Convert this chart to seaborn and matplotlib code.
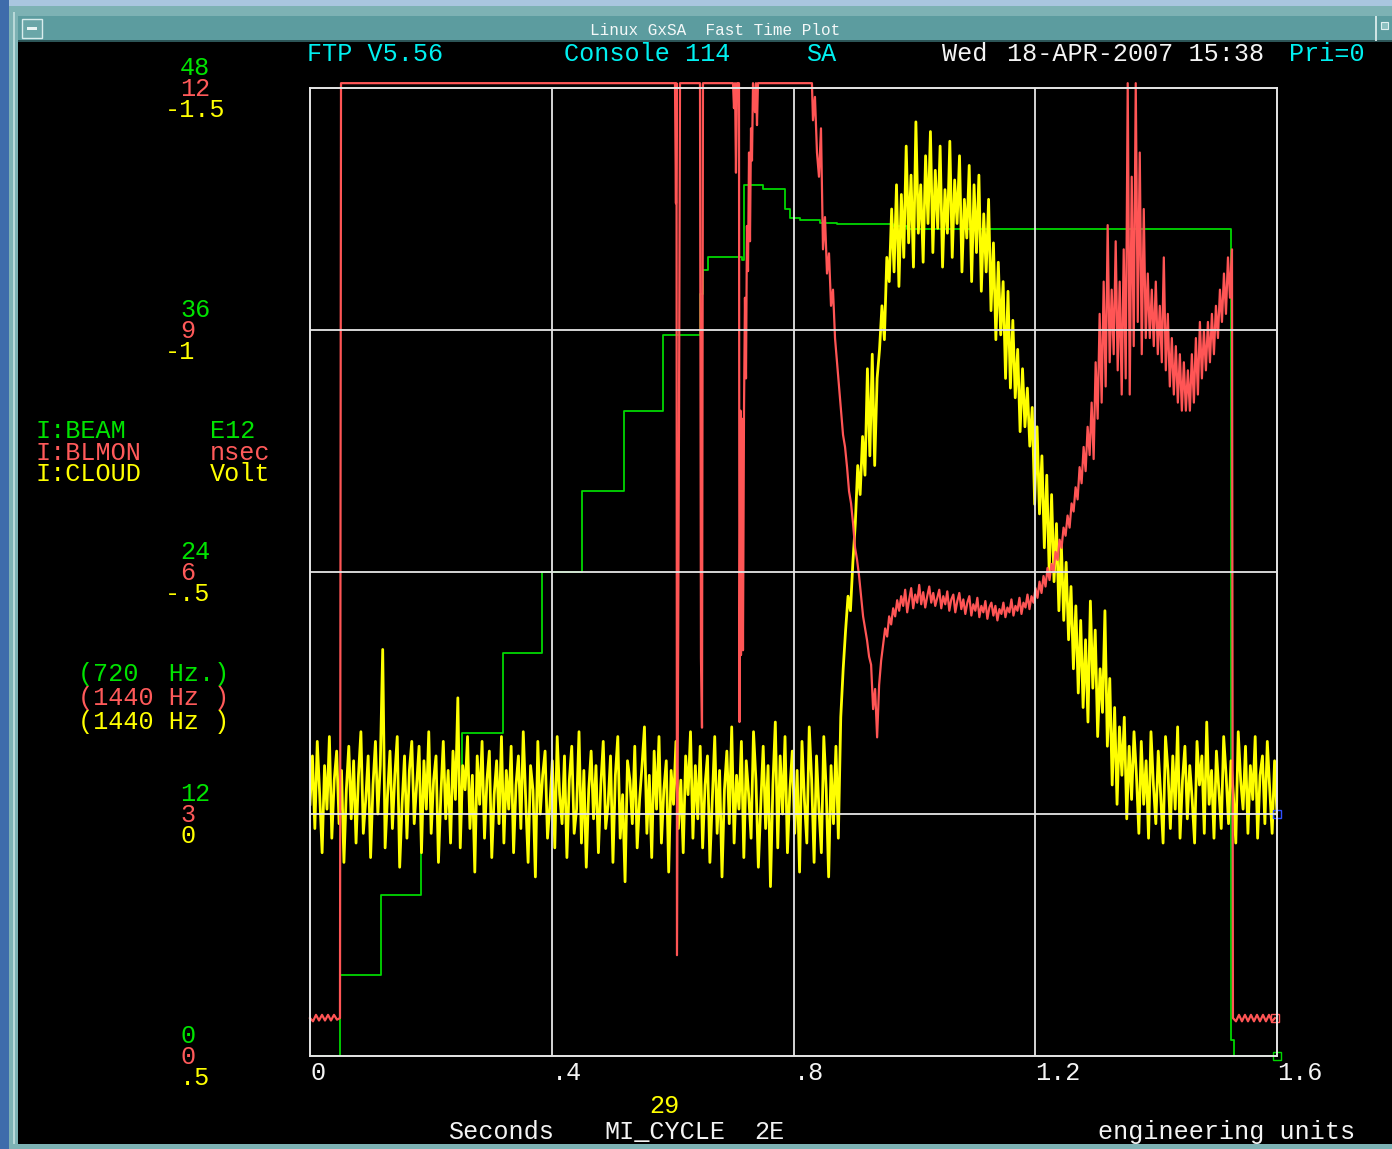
import numpy as np
import matplotlib
matplotlib.use("Agg")
import matplotlib.pyplot as plt
import matplotlib.transforms as mtransforms
from matplotlib.patches import Rectangle
import seaborn as sns

# ---------------- data ----------------
# I:BEAM (E12) step trace: time (s) of each step start and level
beam_t = [0.0, 0.0496, 0.1175, 0.1837, 0.2515, 0.3193, 0.3838, 0.4500, 0.5195, 0.5841,
          0.6453, 0.6502, 0.6585, 0.7148, 0.7181, 0.7495, 0.7859, 0.7942, 0.8107, 0.8438,
          0.8719, 0.9646, 0.9878, 1.5238, 1.5288, 1.6]
beam_v = [0.0, 4.0, 8.0, 12.0, 16.0, 20.0, 24.0, 28.0, 32.0, 35.75,
          37.8, 39.0, 39.6, 39.45, 43.2, 43.0, 42.0, 41.55, 41.45, 41.3,
          41.25, 41.15, 41.0, 0.8, 0.0, 0.0]

# I:BLMON (nsec) - spiky early part (explicit samples)
blmon_t_a = [0.0, 0.0050, 0.0099, 0.0149, 0.0199, 0.0248, 0.0298, 0.0347, 0.0397, 0.0447,
             0.0496, 0.0513, 0.6039, 0.6055, 0.6064, 0.6072, 0.6089, 0.6105, 0.6122, 0.6453,
             0.6469, 0.6486, 0.6502, 0.6999, 0.7015, 0.7032, 0.7048, 0.7065, 0.7098, 0.7106,
             0.7123, 0.7131, 0.7148, 0.7164, 0.7181, 0.7197, 0.7214, 0.7230, 0.7247, 0.7264,
             0.7280, 0.7297, 0.7313, 0.7330, 0.7363, 0.7379, 0.7396, 0.7412, 0.8305]
blmon_v_a = [0.47, 0.43, 0.51, 0.44, 0.51, 0.44, 0.51, 0.44, 0.51, 0.45,
             0.47, 12.06, 12.06, 10.57, 12.06, 1.25, 4.59, 7.78, 12.06, 12.06,
             4.93, 4.07, 12.06, 12.06, 11.75, 12.06, 10.95, 12.06, 12.06, 4.14,
             8.0, 4.97, 7.9, 5.03, 8.0, 9.4, 8.4, 10.29, 9.73, 11.2,
             10.1, 11.5, 11.1, 12.06, 11.7, 12.06, 11.54, 12.06, 12.06]
# I:BLMON main part sampled evenly from 0.8322 s to 1.5255 s
blmon_b_start, blmon_b_end = 0.8322, 1.5255
blmon_v_b = [
    11.6, 11.89, 11.2, 10.9, 11.5, 10.0, 10.4, 9.7, 9.95, 9.3,
    9.5, 8.9, 8.6, 8.3, 8.0, 7.7, 7.55, 7.3, 7.0, 6.85,
    6.6, 6.3, 6.15, 5.95, 5.7, 5.45, 5.3, 5.15, 4.95, 4.85,
    4.3, 4.55, 3.95, 4.6, 4.9, 5.1, 5.3, 5.2, 5.45, 5.35,
    5.55, 5.45, 5.65, 5.52, 5.70, 5.58, 5.78, 5.50, 5.66, 5.80,
    5.55, 5.72, 5.62, 5.84, 5.60, 5.75, 5.56, 5.70, 5.82, 5.62,
    5.74, 5.58, 5.68, 5.78, 5.55, 5.70, 5.60, 5.76, 5.52, 5.66,
    5.72, 5.50, 5.64, 5.74, 5.54, 5.66, 5.48, 5.62, 5.70, 5.46,
    5.60, 5.52, 5.68, 5.44, 5.58, 5.50, 5.64, 5.42, 5.56, 5.62,
    5.46, 5.58, 5.40, 5.54, 5.48, 5.62, 5.44, 5.56, 5.50, 5.66,
    5.46, 5.58, 5.52, 5.68, 5.48, 5.62, 5.56, 5.72, 5.54, 5.70,
    5.62, 5.80, 5.68, 5.88, 5.74, 5.95, 5.82, 6.05, 5.90, 6.10,
    6.00, 6.25, 6.15, 6.40, 6.30, 6.55, 6.45, 6.70, 6.55, 6.85,
    6.75, 7.05, 6.90, 7.30, 7.10, 7.55, 7.25, 7.80, 7.45, 8.10,
    7.4, 8.6, 7.9, 9.2, 8.1, 9.6, 8.3, 10.3, 8.6, 9.5,
    8.7, 10.1, 8.5, 9.6, 8.2, 10.0, 8.4, 12.06, 8.2, 10.9,
    8.8, 12.06, 9.1, 11.2, 8.7, 10.5, 8.9, 9.7, 8.9, 9.5,
    8.8, 9.6, 8.7, 9.3, 8.6, 9.9, 8.5, 9.2, 8.3, 8.9,
    8.2, 8.8, 8.1, 8.7, 8.0, 8.6, 8.0, 8.5, 8.0, 8.7,
    8.1, 8.9, 8.2, 9.1, 8.4, 9.0, 8.5, 9.1, 8.6, 9.2,
    8.7, 9.3, 8.9, 9.5, 9.1, 9.7, 9.2, 9.9, 9.4, 10.0]
# I:BLMON tail after beam is gone
blmon_t_c = [1.5271, 1.5321, 1.5371, 1.5420, 1.5470, 1.5520, 1.5569, 1.5619, 1.5669, 1.5718,
             1.5768, 1.5817, 1.5867, 1.5917, 1.5966]
blmon_v_c = [0.47, 0.43, 0.51, 0.43, 0.51, 0.43, 0.51, 0.43, 0.51, 0.43,
             0.51, 0.43, 0.51, 0.43, 0.47]

# I:CLOUD (Volt), evenly sampled over 0 .. 1.6 s
cloud_v = [
    -0.02, -0.12, 0.03, -0.15, -0.04, 0.08, -0.10, -0.01, -0.16, 0.05, -0.07, -0.13, 0.02, -0.09, 0.10, -0.05, -0.14, 0.01, -0.11, 0.06,
    -0.08, -0.17, 0.04, -0.03, -0.12, 0.09, -0.06, -0.15, 0.00, -0.10, -0.34, 0.07, -0.04, -0.13, 0.03, -0.08, -0.16, 0.11, -0.02, -0.12,
    0.05, -0.09, -0.15, 0.02, -0.06, -0.14, 0.08, -0.11, -0.01, -0.17, 0.04, -0.07, -0.12, 0.10, -0.04, -0.15, 0.01, -0.09, 0.06, -0.13,
    -0.03, -0.24, 0.07, -0.10, -0.05, -0.16, 0.03, -0.08, 0.12, -0.12, -0.02, -0.15, 0.05, -0.07, -0.13, 0.09, -0.04, -0.11, 0.02, -0.16,
    0.06, -0.09, -0.01, -0.14, 0.08, -0.06, -0.12, 0.03, -0.17, -0.03, 0.10, -0.10, -0.05, 0.13, -0.15, 0.00, -0.08, -0.13, 0.05, -0.02,
    -0.11, 0.07, -0.16, -0.04, 0.02, -0.12, 0.09, -0.07, -0.14, 0.04, -0.01, -0.17, 0.06, -0.09, 0.11, -0.05, -0.13, 0.01, -0.10, 0.08,
    -0.06, -0.15, 0.03, -0.02, -0.12, 0.10, -0.08, -0.16, 0.05, -0.04, 0.14, -0.11, -0.07, 0.02, -0.14, 0.07, -0.03, -0.10, -0.18, 0.04,
    -0.08, 0.09, -0.13, -0.01, -0.16, 0.06, -0.05, -0.11, 0.12, -0.09, -0.02, -0.15, 0.03, -0.07, 0.08, -0.12, -0.04, -0.17, 0.05, -0.10,
    0.01, -0.14, 0.07, -0.06, -0.12, 0.10, -0.03, -0.16, 0.04, -0.09, 0.13, -0.05, -0.13, 0.02, -0.18, 0.06, -0.08, -0.01, -0.15, 0.09,
    -0.11, -0.04, 0.05, -0.17, -0.07, 0.11, -0.02, -0.14, 0.03, -0.10, 0.15, -0.06, -0.19, 0.07, -0.12, 0.00, -0.16, 0.08, -0.05, -0.13,
    0.04, -0.09, 0.12, -0.15, -0.03, 0.06, -0.18, -0.07, 0.10, -0.12, -0.01, 0.08, -0.16, -0.05, 0.13, -0.10, 0.02, -0.14, 0.05,
    -0.20, -0.30, -0.38, -0.45, -0.42, -0.52, -0.60, -0.72, -0.66, -0.78, -0.70, -0.92, -0.74, -0.95, -0.72, -0.90, -0.96, -1.05, -0.98, -1.15,
    -1.10, -1.25, -1.12, -1.30, -1.09, -1.28, -1.15, -1.38, -1.18, -1.32, -1.13, -1.43, -1.20, -1.30, -1.14, -1.36, -1.22, -1.41, -1.16, -1.33,
    -1.21, -1.38, -1.13, -1.29, -1.20, -1.39, -1.15, -1.31, -1.22, -1.36, -1.12, -1.27, -1.19, -1.34, -1.10, -1.30, -1.16, -1.32, -1.08, -1.24,
    -1.12, -1.27, -1.04, -1.18, -0.98, -1.14, -0.99, -1.10, -0.90, -1.08, -0.88, -1.02, -0.86, -0.96, -0.79, -0.92, -0.80, -0.88, -0.76, -0.84,
    -0.64, -0.80, -0.62, -0.74, -0.55, -0.70, -0.50, -0.66, -0.48, -0.60, -0.42, -0.56, -0.40, -0.52, -0.36, -0.47, -0.30, -0.43, -0.25, -0.40,
    -0.22, -0.36, -0.19, -0.44, -0.26, -0.38, -0.16, -0.30, -0.21, -0.42, -0.14, -0.28, -0.06, -0.22, -0.02, -0.18, -0.08, -0.20, 0.01, -0.14,
    -0.03, -0.17,
    -0.08, 0.04, -0.15, -0.02, -0.11, 0.05, -0.17, -0.06, 0.02, -0.13, -0.04, 0.06, -0.16, -0.09, 0.03, -0.12, -0.01, -0.18, 0.05, -0.07,
    -0.14, 0.01, -0.10, -0.03, 0.06, -0.15, -0.06, -0.12, 0.04, -0.19, -0.02, -0.09, 0.05, -0.13, -0.05, 0.03, -0.16, -0.08, 0.02, -0.11,
    -0.04, 0.06, -0.17, -0.07, -0.01, -0.14, 0.04, -0.10, -0.03, -0.16, 0.05, -0.08, -0.12, 0.02, -0.15, -0.05, 0.04, -0.11, 0.00]
cloud_t0, cloud_t1 = 0.0, 1.6

# axis scale labels (bottom -> top)
beam_labels = ["0", "12", "24", "36", "48"]
blmon_labels = ["0", "3", "6", "9", "12"]
cloud_labels = [".5", "0", "-.5", "-1", "-1.5"]
beam_levels = [0, 12, 24, 36, 48]
blmon_levels = [0, 3, 6, 9, 12]
cloud_levels = [0.5, 0.0, -0.5, -1.0, -1.5]
x_ticks = [0.0, 0.4, 0.8, 1.2, 1.6]
x_tick_labels = ["0", ".4", ".8", "1.2", "1.6"]

# ---------------- style ----------------
GREEN = "#00d800"
GREEN_T = "#00e400"
RED = "#ff5555"
RED_T = "#ff5a5a"
YELLOW = "#ffff00"
CYAN = "#00f0f0"
WHITE = "#f4f4f4"
GRID = "#e6e6e6"
FONT = ["Liberation Mono", "DejaVu Sans Mono"]
FS = 18.1

W, H = 1392, 1149
fig = plt.figure(figsize=(W / 100, H / 100), dpi=100, facecolor="black")


def fx(px):
    return px / W


def fy(py):
    return 1 - py / H


def rect(x, y, w, h, color, ec=None, lw=0):
    fig.add_artist(Rectangle((fx(x), fy(y + h)), w / W, h / H, transform=fig.transFigure,
                             facecolor=color, edgecolor=ec if ec else color, linewidth=lw, zorder=0))


def label(x, y, s, c, size=FS):
    fig.text(fx(x), fy(y), s, color=c, fontsize=size, family=FONT, ha="left", va="baseline")


# window decorations
rect(0, 0, W, 7, "#a9c6df")
rect(0, 0, 9, H, "#3e6cab")
rect(9, 6, W - 9, 11, "#7db2b4")
rect(9, 6, 9, H - 6, "#7db2b4")
rect(13, 12, 2, H - 12, "#b8d8d8")
rect(18, 16, W - 18, 25, "#5c9c9f")
rect(18, 40, W - 18, 2, "#2c5557")
rect(9, 1144, W - 9, 5, "#7db2b4")
rect(22, 19, 20, 19, "#6aa6a8", ec="#d8ecec", lw=1)
rect(27, 27, 10, 3, "#e8f4f4")
rect(1375, 16, 2, 25, "#cfe4e4")
rect(1381, 22, 7, 7, "#8cc0c0", ec="#e0f0f0", lw=0.8)
label(590, 35, "Linux GxSA  Fast Time Plot", "#f4f8f8", size=11.5)

L, R, T, B = 310, 1277, 88, 1056
ax1 = fig.add_axes([fx(L), fy(B), (R - L) / W, (B - T) / H])
ax1.set_facecolor("black")
ax2 = ax1.twinx()
ax3 = ax1.twinx()

# traces
sns.lineplot(x=beam_t, y=beam_v, ax=ax1, color=GREEN, linewidth=1.3,
             drawstyle="steps-post", estimator=None, sort=False)
cloud_t = np.linspace(cloud_t0, cloud_t1, len(cloud_v))
sns.lineplot(x=cloud_t, y=cloud_v, ax=ax2, color=YELLOW, linewidth=2.0,
             estimator=None, sort=False)
blmon_t_b = np.linspace(blmon_b_start, blmon_b_end, len(blmon_v_b))
blmon_t = np.concatenate([blmon_t_a, blmon_t_b, blmon_t_c])
blmon_v = np.concatenate([blmon_v_a, blmon_v_b, blmon_v_c])
sns.lineplot(x=blmon_t, y=blmon_v, ax=ax3, color=RED, linewidth=1.6,
             estimator=None, sort=False, clip_on=False)

# end markers
ax1.plot([beam_t[-1]], [beam_v[-1]], marker="s", ms=6, mfc="none", mec=GREEN, clip_on=False)
ax2.plot([cloud_t[-1]], [cloud_v[-1]], marker="s", ms=6, mfc="none", mec="#3050ff", clip_on=False)
ax3.plot([blmon_t[-1]], [blmon_v[-1]], marker="s", ms=6, mfc="none", mec=RED, clip_on=False)

ax1.set_xlim(0, 1.6)
ax1.set_ylim(0, 48)
ax2.set_ylim(0.5, -1.5)
ax3.set_ylim(0, 12)

for ax in (ax1, ax2, ax3):
    ax.set_xticks([])
    ax.set_yticks([])
    ax.set_xlabel("")
    ax.set_ylabel("")
    for s in ax.spines.values():
        s.set_visible(False)
for s in ax3.spines.values():
    s.set_visible(True)
    s.set_color(GRID)
    s.set_linewidth(1.4)
    s.set_zorder(6)

for xv in x_ticks[1:-1]:
    ax3.axvline(xv, color=GRID, linewidth=1.3, zorder=5)
for yv in blmon_levels[1:-1]:
    ax3.axhline(yv, color=GRID, linewidth=1.3, zorder=5)

# left scale labels
for axis, levels, labels, color, dy in ((ax1, beam_levels, beam_labels, GREEN_T, 13),
                                       (ax3, blmon_levels, blmon_labels, RED_T, -8),
                                       (ax2, cloud_levels, cloud_labels, YELLOW, -29)):
    tr = mtransforms.blended_transform_factory(fig.transFigure, axis.transData)
    tr = mtransforms.offset_copy(tr, fig=fig, x=0, y=dy, units="dots")
    for lv, lab in zip(levels, labels):
        xpos = 165 if lab.startswith("-") else 180
        fig.text(fx(xpos), lv, lab, transform=tr, color=color, fontsize=FS,
                 family=FONT, ha="left", va="baseline")

# x tick labels
trx = mtransforms.blended_transform_factory(ax1.transData, fig.transFigure)
for xv, lab in zip(x_ticks, x_tick_labels):
    fig.text(xv, fy(1080), lab, transform=trx, color=WHITE, fontsize=FS,
             family=FONT, ha="left", va="baseline")

# header
label(307, 61, "FTP V5.56", CYAN)
label(564, 61, "Console 114", CYAN)
label(806, 61, "SA", CYAN)
label(942, 61, "Wed", WHITE)
label(1007, 61, "18-APR-2007 15:38", WHITE)
label(1289, 61, "Pri=0", CYAN)

# series legend
legend_rows = [("I:BEAM", "E12", GREEN_T, 438), ("I:BLMON", "nsec", RED_T, 460),
               ("I:CLOUD", "Volt", YELLOW, 481)]
for name, unit, c, y in legend_rows:
    label(35, y, name, c)
    label(210, y, unit, c)

rate_rows = [("(720  Hz.)", GREEN_T, 681), ("(1440 Hz )", RED_T, 705), ("(1440 Hz )", YELLOW, 729)]
for s, c, y in rate_rows:
    label(78, y, s, c)

# footer
label(649, 1113, "29", YELLOW)
label(448, 1139, "Seconds", WHITE)
label(604, 1139, "MI_CYCLE", WHITE)
label(754, 1139, "2E", WHITE)
label(1098, 1139, "engineering units", WHITE)

fig.savefig("out.png", dpi=100, facecolor=fig.get_facecolor())
